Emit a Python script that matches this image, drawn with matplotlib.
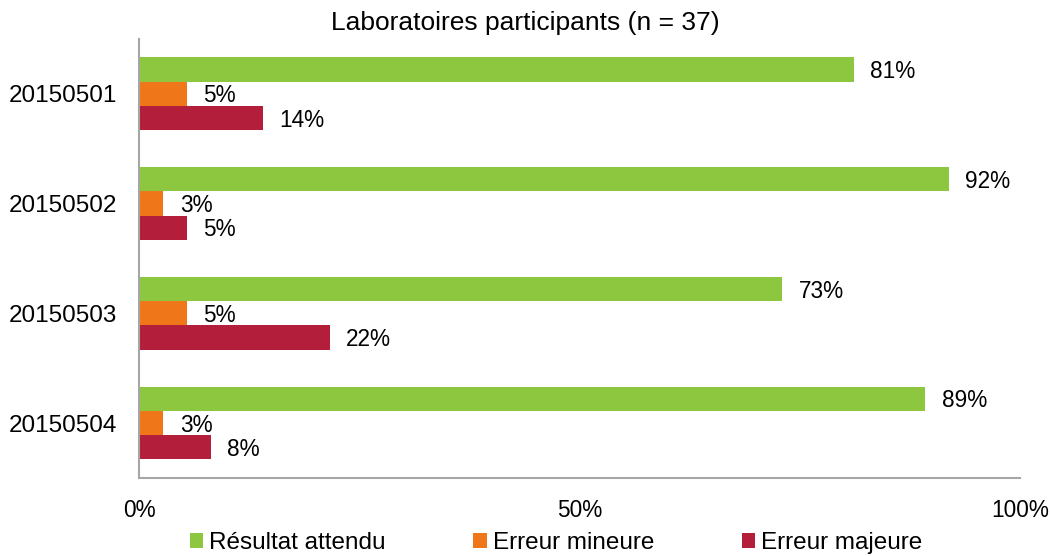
import numpy as np
import matplotlib.pyplot as plt

plt.rcParams['font.family'] = ['Liberation Sans', 'DejaVu Sans']

# data (percent of 37 labs)
categories = ['20150501', '20150502', '20150503', '20150504']
attendu = [81.1, 91.9, 73.0, 89.2]
mineure = [5.4, 2.7, 5.4, 2.7]
majeure = [14.0, 5.4, 21.6, 8.1]
series_names = ['Résultat attendu', 'Erreur mineure', 'Erreur majeure']
colors = ['#8dc73f', '#ef7619', '#b31e3b']
ticks = [0, 50, 100]
tick_labels = ['0%', '50%', '100%']

fig = plt.figure(figsize=(10.5, 5.56), dpi=100)
ax = fig.add_axes([0.1327, 0.1403, 0.8387, 0.7896])

y = np.arange(len(categories))
h = 0.221
for k, vals in enumerate([attendu, mineure, majeure]):
    pos = y + (k - 1) * h
    bars = ax.barh(pos, vals, height=h, color=colors[k], label=series_names[k])
    for b, v in zip(bars, vals):
        ax.annotate('%d%%' % round(v), (b.get_width(), b.get_y() + b.get_height() / 2),
                    xytext=(12, -1.5), textcoords='offset points',
                    va='center', ha='left', fontsize=16.3)

ax.set_ylim(len(categories) - 0.5, -0.5)
ax.set_xlim(0, 100)
ax.set_yticks(y)
ax.set_yticklabels(categories, fontsize=17.5)
ax.set_xticks(ticks)
ax.set_xticklabels(tick_labels, fontsize=16.3)
ax.tick_params(axis='y', length=0, pad=16)
ax.tick_params(axis='x', length=0, pad=15)
for s in ['top', 'right']:
    ax.spines[s].set_visible(False)
for s in ['left', 'bottom']:
    ax.spines[s].set_color('#a6a6a6')
    ax.spines[s].set_linewidth(1.5)

fig.text(0.5, 1 - 23 / 556, 'Laboratoires participants (n = 37)',
         ha='center', va='center', fontsize=19)

fig.legend(loc='center', bbox_to_anchor=(556 / 1050, 1 - 543 / 556), ncol=3,
           frameon=False, fontsize=17.5, handlelength=0.55, handleheight=0.55,
           handletextpad=0.25, columnspacing=3.6, borderaxespad=0)

fig.savefig('out.png', dpi=100)
